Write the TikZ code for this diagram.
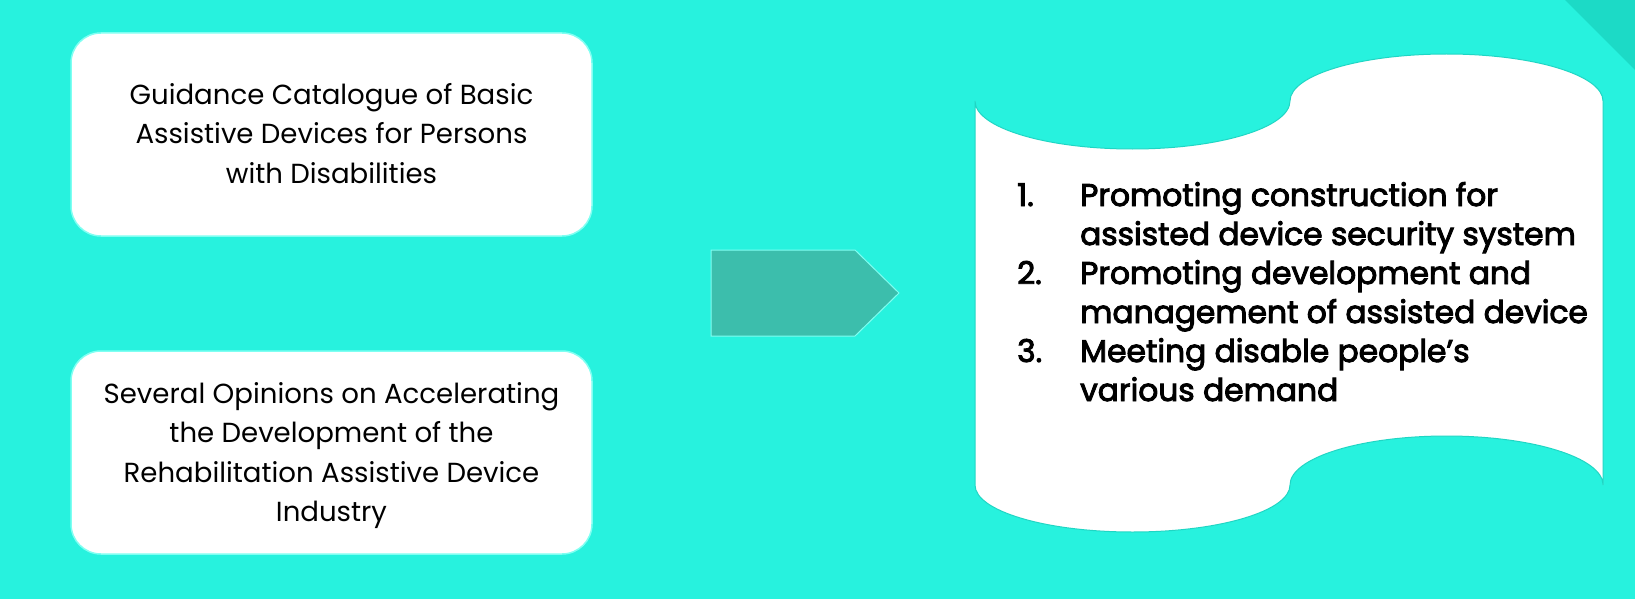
\documentclass[tikz,border=0pt]{standalone}
\usepackage{fontspec}
\setmainfont{Poppins}
\newfontfamily\medfont[FakeBold=3]{Poppins}
\definecolor{bgc}{HTML}{27F2DE}
\definecolor{cornerc}{HTML}{1CDAC6}
\definecolor{arrowc}{HTML}{3CBEAC}
\definecolor{lightc}{HTML}{7FFFF2}
\definecolor{scrolledge}{HTML}{1ED6C4}
\tikzset{
  srcbox/.style={draw=lightc, line width=1.5pt, fill=white, rounded corners=30pt,
    minimum width=521pt, minimum height=203pt, inner sep=0pt},
  srctext/.style={align=center, font=\fontsize{27.6pt}{39.5pt}\selectfont, text=black},
  itemtext/.style={anchor=base west, inner sep=0pt, font=\fontsize{31.3pt}{32pt}\medfont, text=black},
}
\begin{document}
\begin{tikzpicture}[x=1pt,y=-1pt]
\fill[bgc] (0,0) rectangle (1635,599);
\useasboundingbox (0,0) rectangle (1635,599);
\fill[cornerc] (1565,0) -- (1635,0) -- (1635,70) -- cycle;
% source boxes
\node[srcbox] (b1) at (331.5,134.5) {};
\node[srctext] (t1) at ([yshift=1pt]b1.center) {Guidance Catalogue of Basic\\Assistive Devices for Persons\\with Disabilities};
\node[srcbox] (b2) at (331.5,452.5) {};
\node[srctext] (t2) at ([yshift=-3pt]b2.center) {Several Opinions on Accelerating\\the Development of the\\Rehabilitation Assistive Device\\Industry};
% arrow
\draw[draw=lightc, line width=1pt, fill=arrowc] (711,250) -- (855,250) -- (899,293) -- (855,336) -- (711,336) -- cycle;
% scroll
\draw[draw=scrolledge, line width=1pt, fill=white]
  (975,101) -- (975,485)
  arc[start angle=180, end angle=0, x radius=157.5, y radius=47]
  arc[start angle=180, end angle=360, x radius=156.5, y radius=49]
  -- (1603,101)
  arc[start angle=0, end angle=-180, x radius=156.5, y radius=47]
  arc[start angle=0, end angle=180, x radius=157.5, y radius=48]
  -- cycle;
% items
\node[itemtext] (n1) at (1017,206) {1.};
\node[itemtext] (i1a) at (1080,206) {Promoting construction for};
\node[itemtext] (i1b) at (1080,245) {assisted device security system};
\node[itemtext] (n2) at (1017,284) {2.};
\node[itemtext] (i2a) at (1080,284) {Promoting development and};
\node[itemtext] (i2b) at (1080,323) {management of assisted device};
\node[itemtext] (n3) at (1017,362) {3.};
\node[itemtext] (i3a) at (1080,362) {Meeting disable people’s};
\node[itemtext] (i3b) at (1080,401) {various demand};
\end{tikzpicture}
\end{document}
